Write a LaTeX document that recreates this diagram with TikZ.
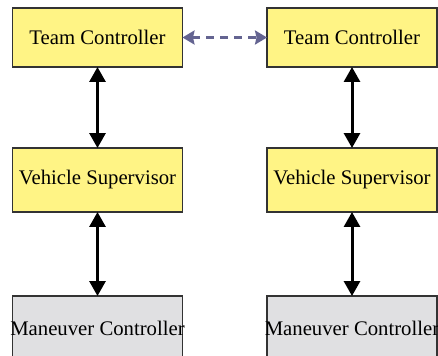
\documentclass[tikz,border=0pt]{standalone}
\usepackage{fontspec}
\setmainfont{Liberation Serif}
\usetikzlibrary{arrows.meta}

\definecolor{boxyellow}{HTML}{FFF485}
\definecolor{boxgray}{HTML}{E0E0E2}
\definecolor{boxline}{HTML}{333333}
\definecolor{linkblue}{HTML}{646491}

\begin{document}
\begin{tikzpicture}[x=0.02cm, y=-0.02cm,
  box/.style={draw=boxline, line width=0.7pt, inner sep=0pt, outer sep=0pt,
    minimum width=3.4cm, font=\rmfamily\fontsize{11.8}{14}\selectfont},
  upper/.style={box, fill=boxyellow, minimum height=1.18cm},
  middle/.style={box, fill=boxyellow, minimum height=1.28cm},
  lower/.style={box, fill=boxgray, minimum height=1.28cm},
  arr/.style={line width=1.7pt, {Triangle[width=0.32cm,length=0.3cm]}-{Triangle[width=0.32cm,length=0.3cm]}},
  darr/.style={linkblue, line width=1.6pt, dash pattern=on 0.16cm off 0.12cm,
    {Stealth[width=0.28cm,length=0.24cm,inset=0.03cm]}-{Stealth[width=0.28cm,length=0.24cm,inset=0.03cm]}}]
  % 枠
  \clip (0,0) rectangle (438,355);

  % 左の列
  \node[upper]  (tc1) at (97.5,37.5) {Team Controller};
  \node[middle] (vs1) at (97.5,180) {Vehicle Supervisor};
  \node[lower]  (mc1) at (97.5,328) {\makebox[0pt]{Maneuver Controller}};

  % 右の列
  \node[upper]  (tc2) at (352,37.5) {Team Controller};
  \node[middle] (vs2) at (352,180) {Vehicle Supervisor};
  \node[lower]  (mc2) at (352,328) {\makebox[0pt]{Maneuver Controller}};

  % 矢印
  \draw[arr] (tc1) -- (vs1);
  \draw[arr] (vs1) -- (mc1);
  \draw[arr] (tc2) -- (vs2);
  \draw[arr] (vs2) -- (mc2);

  % チーム間の通信
  \draw[darr] (tc1) -- (tc2);
\end{tikzpicture}
\end{document}
